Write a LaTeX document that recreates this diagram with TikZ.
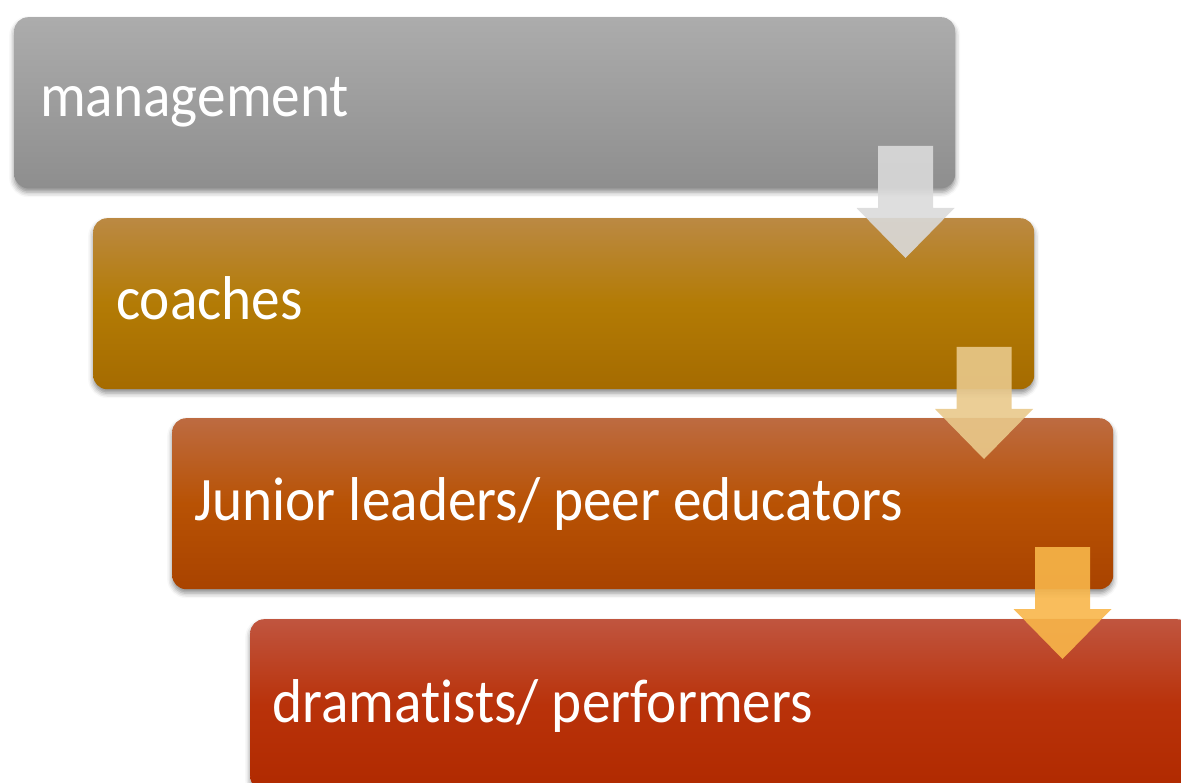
\documentclass[tikz,border=0pt]{standalone}
\usepackage{fontspec}
\setmainfont{Carlito}[Ligatures=NoCommon]
\usetikzlibrary{shadows.blur}
\definecolor{g1t}{HTML}{ACACAC}\definecolor{g1b}{HTML}{8E8E8E}
\definecolor{g2t}{HTML}{BB8943}\definecolor{g2m}{HTML}{B37B05}\definecolor{g2b}{HTML}{A56B00}
\definecolor{g3t}{HTML}{BD6B41}\definecolor{g3m}{HTML}{B85204}\definecolor{g3b}{HTML}{A94300}
\definecolor{g4t}{HTML}{C0553F}\definecolor{g4m}{HTML}{B9320A}\definecolor{g4b}{HTML}{B02A00}
\definecolor{a1}{HTML}{DADADA}\definecolor{a2}{HTML}{E9C98B}\definecolor{a3}{HTML}{F8B64A}
\newcommand{\stretchtext}[1]{\scalebox{1}[1.08]{#1}}
\begin{document}
\begin{tikzpicture}[x=1pt,y=-1pt,
  stagebox/.style={rectangle, rounded corners=14pt, draw=none, inner sep=0pt,
    minimum width=941pt, minimum height=171pt, anchor=north west,
    blur shadow={shadow xshift=0pt, shadow yshift=-4pt, shadow blur radius=5pt, shadow opacity=45}},
  label/.style={anchor=base west, inner sep=0pt, text=white, font=\fontsize{57.3}{68}\selectfont},
  downarrow/.style={fill opacity=0.9, draw=none}]
\useasboundingbox (0,0) rectangle (1181,783);
\node[stagebox, top color=g1t, bottom color=g1b] (b1) at (14,17) {};
\node[stagebox, top color=g2t, bottom color=g2b, middle color=g2m] (b2) at (93,218) {};
\node[stagebox, top color=g3t, bottom color=g3b, middle color=g3m] (b3) at (172,418) {};
\node[stagebox, top color=g4t, bottom color=g4b, middle color=g4m] (b4) at (250,619) {};
\node[label] (t1) at (40,117) {\stretchtext{management}};
\node[label] (t2) at (116,320) {\stretchtext{coaches}};
\node[label] (t3) at (194,520) {\stretchtext{Junior leaders/ peer educators}};
\node[label] (t4) at (272,722) {\stretchtext{dramatists/ performers}};
\foreach \cx/\yt/\c in {905.5/146/a1, 984/347/a2, 1062.5/547/a3}{
  \fill[downarrow, \c] (\cx-27.5,\yt) -- (\cx+27.5,\yt) -- (\cx+27.5,\yt+62) -- (\cx+49,\yt+62)
     -- (\cx,\yt+112) -- (\cx-49,\yt+62) -- (\cx-27.5,\yt+62) -- cycle;
}
\end{tikzpicture}
\end{document}
